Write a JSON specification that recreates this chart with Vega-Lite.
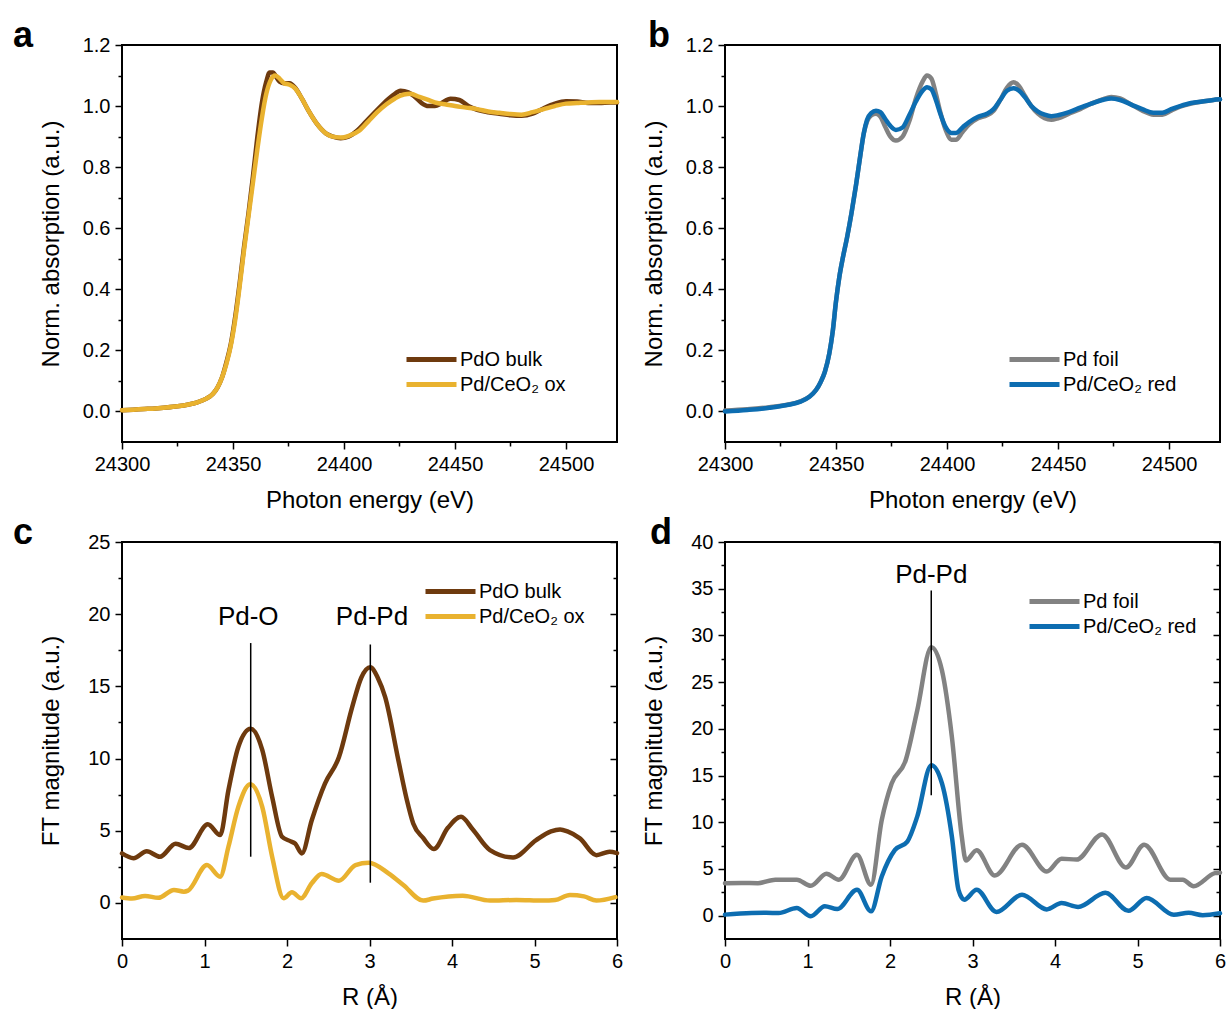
{
  "$schema": "https://vega.github.io/schema/vega-lite/v6.json",
  "padding": {"left": 12, "top": 17, "right": 0, "bottom": 0},
  "background": "white",
  "config": {
    "font": "Liberation Sans",
    "view": {"stroke": "black", "strokeWidth": 2},
    "axis": {
      "domain": false, "grid": false,
      "tickColor": "black", "tickWidth": 1.5,
      "labelFont": "Liberation Sans", "labelFontSize": 20, "labelColor": "black",
      "titleFont": "Liberation Sans", "titleFontSize": 24, "titleFontWeight": "normal", "titleColor": "black",
      "labelFlush": false, "labelOverlap": false
    },
    "axisLeft": {"minExtent": 42, "maxExtent": 42, "titlePadding": 17, "labelPadding": 5},
    "axisBottom": {"labelPadding": 5, "titlePadding": 14},
    "legend": {
      "orient": "none", "title": null, "padding": 0, "rowPadding": 2,
      "labelFont": "Liberation Sans", "labelFontSize": 20, "labelColor": "black",
      "symbolType": "M-2.5,0L2.5,0", "symbolSize": 400, "symbolStrokeWidth": 5, "labelOffset": 16
    },
    "title": {"font": "Liberation Sans", "fontSize": 36, "fontWeight": "bold", "color": "black", "anchor": "start", "frame": "group", "orient": "top", "offset": 0, "baseline": "alphabetic"}
  },
  "datasets": {
    "a": [
      {"E": 24300, "v": 0.004, "s": "PdO bulk"}, {"E": 24305, "v": 0.006, "s": "PdO bulk"}, {"E": 24310, "v": 0.008, "s": "PdO bulk"},
      {"E": 24315, "v": 0.010, "s": "PdO bulk"}, {"E": 24320, "v": 0.013, "s": "PdO bulk"}, {"E": 24325, "v": 0.017, "s": "PdO bulk"},
      {"E": 24330, "v": 0.023, "s": "PdO bulk"}, {"E": 24334, "v": 0.030, "s": "PdO bulk"}, {"E": 24338, "v": 0.042, "s": "PdO bulk"},
      {"E": 24341, "v": 0.058, "s": "PdO bulk"}, {"E": 24343, "v": 0.078, "s": "PdO bulk"}, {"E": 24345, "v": 0.11, "s": "PdO bulk"},
      {"E": 24347, "v": 0.16, "s": "PdO bulk"}, {"E": 24349, "v": 0.22, "s": "PdO bulk"}, {"E": 24351, "v": 0.31, "s": "PdO bulk"},
      {"E": 24353, "v": 0.42, "s": "PdO bulk"}, {"E": 24355, "v": 0.54, "s": "PdO bulk"}, {"E": 24357, "v": 0.65, "s": "PdO bulk"},
      {"E": 24359, "v": 0.77, "s": "PdO bulk"}, {"E": 24361, "v": 0.90, "s": "PdO bulk"}, {"E": 24363, "v": 1.01, "s": "PdO bulk"},
      {"E": 24365, "v": 1.08, "s": "PdO bulk"}, {"E": 24366.5, "v": 1.11, "s": "PdO bulk"}, {"E": 24368, "v": 1.11, "s": "PdO bulk"},
      {"E": 24369.5, "v": 1.095, "s": "PdO bulk"}, {"E": 24371, "v": 1.08, "s": "PdO bulk"}, {"E": 24373, "v": 1.075, "s": "PdO bulk"},
      {"E": 24375.5, "v": 1.075, "s": "PdO bulk"}, {"E": 24378, "v": 1.06, "s": "PdO bulk"}, {"E": 24381, "v": 1.025, "s": "PdO bulk"},
      {"E": 24384, "v": 0.985, "s": "PdO bulk"}, {"E": 24388, "v": 0.94, "s": "PdO bulk"}, {"E": 24392, "v": 0.91, "s": "PdO bulk"},
      {"E": 24395, "v": 0.9, "s": "PdO bulk"}, {"E": 24398.5, "v": 0.895, "s": "PdO bulk"}, {"E": 24402, "v": 0.9, "s": "PdO bulk"},
      {"E": 24406, "v": 0.92, "s": "PdO bulk"}, {"E": 24410, "v": 0.95, "s": "PdO bulk"}, {"E": 24414, "v": 0.98, "s": "PdO bulk"},
      {"E": 24418, "v": 1.01, "s": "PdO bulk"}, {"E": 24422, "v": 1.035, "s": "PdO bulk"}, {"E": 24425.5, "v": 1.05, "s": "PdO bulk"},
      {"E": 24429, "v": 1.045, "s": "PdO bulk"}, {"E": 24432, "v": 1.03, "s": "PdO bulk"}, {"E": 24435, "v": 1.01, "s": "PdO bulk"},
      {"E": 24438, "v": 1.0, "s": "PdO bulk"}, {"E": 24441, "v": 1.0, "s": "PdO bulk"}, {"E": 24444, "v": 1.01, "s": "PdO bulk"},
      {"E": 24448, "v": 1.024, "s": "PdO bulk"}, {"E": 24452, "v": 1.02, "s": "PdO bulk"}, {"E": 24456, "v": 1.0, "s": "PdO bulk"},
      {"E": 24460, "v": 0.988, "s": "PdO bulk"}, {"E": 24465, "v": 0.98, "s": "PdO bulk"}, {"E": 24470, "v": 0.975, "s": "PdO bulk"},
      {"E": 24475, "v": 0.97, "s": "PdO bulk"}, {"E": 24480, "v": 0.968, "s": "PdO bulk"}, {"E": 24485, "v": 0.975, "s": "PdO bulk"},
      {"E": 24490, "v": 0.993, "s": "PdO bulk"}, {"E": 24495, "v": 1.008, "s": "PdO bulk"}, {"E": 24500, "v": 1.016, "s": "PdO bulk"},
      {"E": 24505, "v": 1.015, "s": "PdO bulk"}, {"E": 24510, "v": 1.01, "s": "PdO bulk"}, {"E": 24515, "v": 1.01, "s": "PdO bulk"},
      {"E": 24520, "v": 1.012, "s": "PdO bulk"}, {"E": 24523, "v": 1.012, "s": "PdO bulk"},
      {"E": 24300, "v": 0.004, "s": "Pd/CeO₂ ox"}, {"E": 24305, "v": 0.006, "s": "Pd/CeO₂ ox"}, {"E": 24310, "v": 0.008, "s": "Pd/CeO₂ ox"},
      {"E": 24315, "v": 0.010, "s": "Pd/CeO₂ ox"}, {"E": 24320, "v": 0.013, "s": "Pd/CeO₂ ox"}, {"E": 24325, "v": 0.017, "s": "Pd/CeO₂ ox"},
      {"E": 24330, "v": 0.023, "s": "Pd/CeO₂ ox"}, {"E": 24334, "v": 0.030, "s": "Pd/CeO₂ ox"}, {"E": 24338, "v": 0.042, "s": "Pd/CeO₂ ox"},
      {"E": 24341, "v": 0.058, "s": "Pd/CeO₂ ox"}, {"E": 24343, "v": 0.078, "s": "Pd/CeO₂ ox"}, {"E": 24345, "v": 0.11, "s": "Pd/CeO₂ ox"},
      {"E": 24347, "v": 0.155, "s": "Pd/CeO₂ ox"}, {"E": 24349, "v": 0.215, "s": "Pd/CeO₂ ox"}, {"E": 24351, "v": 0.30, "s": "Pd/CeO₂ ox"},
      {"E": 24353, "v": 0.41, "s": "Pd/CeO₂ ox"}, {"E": 24355, "v": 0.53, "s": "Pd/CeO₂ ox"}, {"E": 24357, "v": 0.64, "s": "Pd/CeO₂ ox"},
      {"E": 24359, "v": 0.75, "s": "Pd/CeO₂ ox"}, {"E": 24361, "v": 0.86, "s": "Pd/CeO₂ ox"}, {"E": 24363, "v": 0.96, "s": "Pd/CeO₂ ox"},
      {"E": 24365, "v": 1.04, "s": "Pd/CeO₂ ox"}, {"E": 24367, "v": 1.085, "s": "Pd/CeO₂ ox"}, {"E": 24369, "v": 1.1, "s": "Pd/CeO₂ ox"},
      {"E": 24371, "v": 1.09, "s": "Pd/CeO₂ ox"}, {"E": 24373, "v": 1.075, "s": "Pd/CeO₂ ox"}, {"E": 24375.5, "v": 1.07, "s": "Pd/CeO₂ ox"},
      {"E": 24378, "v": 1.058, "s": "Pd/CeO₂ ox"}, {"E": 24381, "v": 1.025, "s": "Pd/CeO₂ ox"}, {"E": 24384, "v": 0.985, "s": "Pd/CeO₂ ox"},
      {"E": 24388, "v": 0.94, "s": "Pd/CeO₂ ox"}, {"E": 24392, "v": 0.91, "s": "Pd/CeO₂ ox"}, {"E": 24395, "v": 0.9, "s": "Pd/CeO₂ ox"},
      {"E": 24399, "v": 0.897, "s": "Pd/CeO₂ ox"}, {"E": 24403, "v": 0.905, "s": "Pd/CeO₂ ox"}, {"E": 24407, "v": 0.92, "s": "Pd/CeO₂ ox"},
      {"E": 24411, "v": 0.95, "s": "Pd/CeO₂ ox"}, {"E": 24415, "v": 0.98, "s": "Pd/CeO₂ ox"}, {"E": 24419, "v": 1.005, "s": "Pd/CeO₂ ox"},
      {"E": 24423, "v": 1.025, "s": "Pd/CeO₂ ox"}, {"E": 24427, "v": 1.038, "s": "Pd/CeO₂ ox"}, {"E": 24430, "v": 1.04, "s": "Pd/CeO₂ ox"},
      {"E": 24434, "v": 1.03, "s": "Pd/CeO₂ ox"}, {"E": 24438, "v": 1.02, "s": "Pd/CeO₂ ox"}, {"E": 24442, "v": 1.01, "s": "Pd/CeO₂ ox"},
      {"E": 24446, "v": 1.005, "s": "Pd/CeO₂ ox"}, {"E": 24450, "v": 1.0, "s": "Pd/CeO₂ ox"}, {"E": 24455, "v": 0.995, "s": "Pd/CeO₂ ox"},
      {"E": 24460, "v": 0.99, "s": "Pd/CeO₂ ox"}, {"E": 24465, "v": 0.982, "s": "Pd/CeO₂ ox"}, {"E": 24470, "v": 0.978, "s": "Pd/CeO₂ ox"},
      {"E": 24475, "v": 0.974, "s": "Pd/CeO₂ ox"}, {"E": 24480, "v": 0.972, "s": "Pd/CeO₂ ox"}, {"E": 24485, "v": 0.98, "s": "Pd/CeO₂ ox"},
      {"E": 24490, "v": 0.99, "s": "Pd/CeO₂ ox"}, {"E": 24495, "v": 1.0, "s": "Pd/CeO₂ ox"}, {"E": 24500, "v": 1.008, "s": "Pd/CeO₂ ox"},
      {"E": 24505, "v": 1.01, "s": "Pd/CeO₂ ox"}, {"E": 24510, "v": 1.012, "s": "Pd/CeO₂ ox"}, {"E": 24515, "v": 1.013, "s": "Pd/CeO₂ ox"},
      {"E": 24520, "v": 1.013, "s": "Pd/CeO₂ ox"}, {"E": 24523, "v": 1.013, "s": "Pd/CeO₂ ox"}
    ],
    "b": [
      {"E": 24300, "v": 0.003, "s": "Pd foil"}, {"E": 24310, "v": 0.007, "s": "Pd foil"}, {"E": 24320, "v": 0.014, "s": "Pd foil"},
      {"E": 24328, "v": 0.022, "s": "Pd foil"}, {"E": 24334, "v": 0.033, "s": "Pd foil"}, {"E": 24338, "v": 0.048, "s": "Pd foil"},
      {"E": 24341, "v": 0.07, "s": "Pd foil"}, {"E": 24343, "v": 0.095, "s": "Pd foil"}, {"E": 24345, "v": 0.13, "s": "Pd foil"},
      {"E": 24347, "v": 0.19, "s": "Pd foil"}, {"E": 24348.5, "v": 0.26, "s": "Pd foil"}, {"E": 24350, "v": 0.36, "s": "Pd foil"},
      {"E": 24351.5, "v": 0.44, "s": "Pd foil"}, {"E": 24353, "v": 0.5, "s": "Pd foil"}, {"E": 24355, "v": 0.57, "s": "Pd foil"},
      {"E": 24357, "v": 0.65, "s": "Pd foil"}, {"E": 24359, "v": 0.74, "s": "Pd foil"}, {"E": 24361, "v": 0.84, "s": "Pd foil"},
      {"E": 24362.5, "v": 0.91, "s": "Pd foil"}, {"E": 24364, "v": 0.95, "s": "Pd foil"}, {"E": 24366, "v": 0.97, "s": "Pd foil"},
      {"E": 24368, "v": 0.975, "s": "Pd foil"}, {"E": 24370, "v": 0.965, "s": "Pd foil"}, {"E": 24372, "v": 0.935, "s": "Pd foil"},
      {"E": 24374.5, "v": 0.9, "s": "Pd foil"}, {"E": 24377, "v": 0.887, "s": "Pd foil"}, {"E": 24380, "v": 0.9, "s": "Pd foil"},
      {"E": 24383, "v": 0.95, "s": "Pd foil"}, {"E": 24386, "v": 1.025, "s": "Pd foil"}, {"E": 24389, "v": 1.08, "s": "Pd foil"},
      {"E": 24391, "v": 1.1, "s": "Pd foil"}, {"E": 24393, "v": 1.09, "s": "Pd foil"}, {"E": 24395, "v": 1.04, "s": "Pd foil"},
      {"E": 24397, "v": 0.98, "s": "Pd foil"}, {"E": 24399.5, "v": 0.92, "s": "Pd foil"}, {"E": 24402, "v": 0.89, "s": "Pd foil"},
      {"E": 24404, "v": 0.89, "s": "Pd foil"}, {"E": 24407, "v": 0.915, "s": "Pd foil"}, {"E": 24410, "v": 0.94, "s": "Pd foil"},
      {"E": 24414, "v": 0.96, "s": "Pd foil"}, {"E": 24418, "v": 0.97, "s": "Pd foil"}, {"E": 24421, "v": 0.985, "s": "Pd foil"},
      {"E": 24424, "v": 1.02, "s": "Pd foil"}, {"E": 24427, "v": 1.06, "s": "Pd foil"}, {"E": 24430, "v": 1.078, "s": "Pd foil"},
      {"E": 24432.5, "v": 1.065, "s": "Pd foil"}, {"E": 24435, "v": 1.035, "s": "Pd foil"}, {"E": 24438, "v": 1.0, "s": "Pd foil"},
      {"E": 24441, "v": 0.975, "s": "Pd foil"}, {"E": 24444, "v": 0.96, "s": "Pd foil"}, {"E": 24447, "v": 0.955, "s": "Pd foil"},
      {"E": 24450, "v": 0.96, "s": "Pd foil"}, {"E": 24455, "v": 0.975, "s": "Pd foil"}, {"E": 24460, "v": 0.99, "s": "Pd foil"},
      {"E": 24465, "v": 1.008, "s": "Pd foil"}, {"E": 24470, "v": 1.022, "s": "Pd foil"}, {"E": 24474, "v": 1.03, "s": "Pd foil"},
      {"E": 24478, "v": 1.025, "s": "Pd foil"}, {"E": 24483, "v": 1.005, "s": "Pd foil"}, {"E": 24488, "v": 0.985, "s": "Pd foil"},
      {"E": 24493, "v": 0.972, "s": "Pd foil"}, {"E": 24497, "v": 0.972, "s": "Pd foil"}, {"E": 24501, "v": 0.985, "s": "Pd foil"},
      {"E": 24505, "v": 0.998, "s": "Pd foil"}, {"E": 24510, "v": 1.008, "s": "Pd foil"}, {"E": 24515, "v": 1.015, "s": "Pd foil"},
      {"E": 24520, "v": 1.02, "s": "Pd foil"}, {"E": 24523, "v": 1.022, "s": "Pd foil"},
      {"E": 24300, "v": 0.0, "s": "Pd/CeO₂ red"}, {"E": 24310, "v": 0.005, "s": "Pd/CeO₂ red"}, {"E": 24320, "v": 0.012, "s": "Pd/CeO₂ red"},
      {"E": 24328, "v": 0.021, "s": "Pd/CeO₂ red"}, {"E": 24334, "v": 0.032, "s": "Pd/CeO₂ red"}, {"E": 24338, "v": 0.048, "s": "Pd/CeO₂ red"},
      {"E": 24341, "v": 0.07, "s": "Pd/CeO₂ red"}, {"E": 24343, "v": 0.095, "s": "Pd/CeO₂ red"}, {"E": 24345, "v": 0.13, "s": "Pd/CeO₂ red"},
      {"E": 24347, "v": 0.19, "s": "Pd/CeO₂ red"}, {"E": 24348.5, "v": 0.26, "s": "Pd/CeO₂ red"}, {"E": 24350, "v": 0.36, "s": "Pd/CeO₂ red"},
      {"E": 24351.5, "v": 0.44, "s": "Pd/CeO₂ red"}, {"E": 24353, "v": 0.5, "s": "Pd/CeO₂ red"}, {"E": 24355, "v": 0.57, "s": "Pd/CeO₂ red"},
      {"E": 24357, "v": 0.65, "s": "Pd/CeO₂ red"}, {"E": 24359, "v": 0.74, "s": "Pd/CeO₂ red"}, {"E": 24361, "v": 0.84, "s": "Pd/CeO₂ red"},
      {"E": 24362.5, "v": 0.91, "s": "Pd/CeO₂ red"}, {"E": 24364, "v": 0.955, "s": "Pd/CeO₂ red"}, {"E": 24366, "v": 0.978, "s": "Pd/CeO₂ red"},
      {"E": 24368, "v": 0.985, "s": "Pd/CeO₂ red"}, {"E": 24370, "v": 0.98, "s": "Pd/CeO₂ red"}, {"E": 24372, "v": 0.96, "s": "Pd/CeO₂ red"},
      {"E": 24374.5, "v": 0.935, "s": "Pd/CeO₂ red"}, {"E": 24377, "v": 0.922, "s": "Pd/CeO₂ red"}, {"E": 24380, "v": 0.93, "s": "Pd/CeO₂ red"},
      {"E": 24383, "v": 0.97, "s": "Pd/CeO₂ red"}, {"E": 24386, "v": 1.015, "s": "Pd/CeO₂ red"}, {"E": 24389, "v": 1.05, "s": "Pd/CeO₂ red"},
      {"E": 24391, "v": 1.062, "s": "Pd/CeO₂ red"}, {"E": 24393, "v": 1.055, "s": "Pd/CeO₂ red"}, {"E": 24395, "v": 1.02, "s": "Pd/CeO₂ red"},
      {"E": 24397, "v": 0.975, "s": "Pd/CeO₂ red"}, {"E": 24399.5, "v": 0.93, "s": "Pd/CeO₂ red"}, {"E": 24402, "v": 0.912, "s": "Pd/CeO₂ red"},
      {"E": 24404, "v": 0.912, "s": "Pd/CeO₂ red"}, {"E": 24407, "v": 0.93, "s": "Pd/CeO₂ red"}, {"E": 24410, "v": 0.948, "s": "Pd/CeO₂ red"},
      {"E": 24414, "v": 0.965, "s": "Pd/CeO₂ red"}, {"E": 24418, "v": 0.975, "s": "Pd/CeO₂ red"}, {"E": 24421, "v": 0.99, "s": "Pd/CeO₂ red"},
      {"E": 24424, "v": 1.02, "s": "Pd/CeO₂ red"}, {"E": 24427, "v": 1.05, "s": "Pd/CeO₂ red"}, {"E": 24430, "v": 1.058, "s": "Pd/CeO₂ red"},
      {"E": 24432.5, "v": 1.05, "s": "Pd/CeO₂ red"}, {"E": 24435, "v": 1.03, "s": "Pd/CeO₂ red"}, {"E": 24438, "v": 1.0, "s": "Pd/CeO₂ red"},
      {"E": 24441, "v": 0.982, "s": "Pd/CeO₂ red"}, {"E": 24444, "v": 0.972, "s": "Pd/CeO₂ red"}, {"E": 24447, "v": 0.967, "s": "Pd/CeO₂ red"},
      {"E": 24450, "v": 0.97, "s": "Pd/CeO₂ red"}, {"E": 24455, "v": 0.98, "s": "Pd/CeO₂ red"}, {"E": 24460, "v": 0.995, "s": "Pd/CeO₂ red"},
      {"E": 24465, "v": 1.008, "s": "Pd/CeO₂ red"}, {"E": 24470, "v": 1.02, "s": "Pd/CeO₂ red"}, {"E": 24474, "v": 1.025, "s": "Pd/CeO₂ red"},
      {"E": 24478, "v": 1.02, "s": "Pd/CeO₂ red"}, {"E": 24483, "v": 1.005, "s": "Pd/CeO₂ red"}, {"E": 24488, "v": 0.99, "s": "Pd/CeO₂ red"},
      {"E": 24493, "v": 0.978, "s": "Pd/CeO₂ red"}, {"E": 24497, "v": 0.978, "s": "Pd/CeO₂ red"}, {"E": 24501, "v": 0.99, "s": "Pd/CeO₂ red"},
      {"E": 24505, "v": 1.0, "s": "Pd/CeO₂ red"}, {"E": 24510, "v": 1.01, "s": "Pd/CeO₂ red"}, {"E": 24515, "v": 1.015, "s": "Pd/CeO₂ red"},
      {"E": 24520, "v": 1.02, "s": "Pd/CeO₂ red"}, {"E": 24523, "v": 1.022, "s": "Pd/CeO₂ red"}
    ],
    "c": [
      {"R": 0, "m": 3.43, "s": "PdO bulk"}, {"R": 0.14, "m": 3.1, "s": "PdO bulk"}, {"R": 0.30, "m": 3.58, "s": "PdO bulk"},
      {"R": 0.46, "m": 3.2, "s": "PdO bulk"}, {"R": 0.65, "m": 4.1, "s": "PdO bulk"}, {"R": 0.81, "m": 3.8, "s": "PdO bulk"},
      {"R": 1.04, "m": 5.45, "s": "PdO bulk"}, {"R": 1.19, "m": 4.7, "s": "PdO bulk"}, {"R": 1.29, "m": 7.8, "s": "PdO bulk"},
      {"R": 1.41, "m": 10.8, "s": "PdO bulk"}, {"R": 1.56, "m": 12.06, "s": "PdO bulk"}, {"R": 1.70, "m": 10.6, "s": "PdO bulk"},
      {"R": 1.82, "m": 7.34, "s": "PdO bulk"}, {"R": 1.94, "m": 4.58, "s": "PdO bulk"}, {"R": 2.04, "m": 4.28, "s": "PdO bulk"},
      {"R": 2.10, "m": 4.1, "s": "PdO bulk"}, {"R": 2.18, "m": 3.43, "s": "PdO bulk"}, {"R": 2.30, "m": 5.73, "s": "PdO bulk"},
      {"R": 2.46, "m": 8.27, "s": "PdO bulk"}, {"R": 2.63, "m": 10.1, "s": "PdO bulk"}, {"R": 2.79, "m": 13.56, "s": "PdO bulk"},
      {"R": 2.90, "m": 15.6, "s": "PdO bulk"}, {"R": 3.01, "m": 16.32, "s": "PdO bulk"}, {"R": 3.10, "m": 15.6, "s": "PdO bulk"},
      {"R": 3.19, "m": 14.25, "s": "PdO bulk"}, {"R": 3.35, "m": 9.88, "s": "PdO bulk"}, {"R": 3.45, "m": 7.2, "s": "PdO bulk"},
      {"R": 3.53, "m": 5.5, "s": "PdO bulk"}, {"R": 3.65, "m": 4.5, "s": "PdO bulk"}, {"R": 3.78, "m": 3.73, "s": "PdO bulk"},
      {"R": 3.95, "m": 5.2, "s": "PdO bulk"}, {"R": 4.11, "m": 5.96, "s": "PdO bulk"}, {"R": 4.25, "m": 5.1, "s": "PdO bulk"},
      {"R": 4.46, "m": 3.66, "s": "PdO bulk"}, {"R": 4.74, "m": 3.15, "s": "PdO bulk"}, {"R": 5.02, "m": 4.35, "s": "PdO bulk"},
      {"R": 5.20, "m": 4.95, "s": "PdO bulk"}, {"R": 5.31, "m": 5.09, "s": "PdO bulk"}, {"R": 5.40, "m": 4.95, "s": "PdO bulk"},
      {"R": 5.55, "m": 4.47, "s": "PdO bulk"}, {"R": 5.75, "m": 3.31, "s": "PdO bulk"}, {"R": 5.91, "m": 3.54, "s": "PdO bulk"},
      {"R": 6.0, "m": 3.45, "s": "PdO bulk"},
      {"R": 0, "m": 0.37, "s": "Pd/CeO₂ ox"}, {"R": 0.12, "m": 0.3, "s": "Pd/CeO₂ ox"}, {"R": 0.28, "m": 0.48, "s": "Pd/CeO₂ ox"},
      {"R": 0.44, "m": 0.35, "s": "Pd/CeO₂ ox"}, {"R": 0.63, "m": 0.9, "s": "Pd/CeO₂ ox"}, {"R": 0.75, "m": 0.78, "s": "Pd/CeO₂ ox"},
      {"R": 0.80, "m": 0.85, "s": "Pd/CeO₂ ox"}, {"R": 1.03, "m": 2.62, "s": "Pd/CeO₂ ox"}, {"R": 1.19, "m": 1.82, "s": "Pd/CeO₂ ox"},
      {"R": 1.29, "m": 3.89, "s": "Pd/CeO₂ ox"}, {"R": 1.41, "m": 6.65, "s": "Pd/CeO₂ ox"}, {"R": 1.555, "m": 8.22, "s": "Pd/CeO₂ ox"},
      {"R": 1.70, "m": 6.65, "s": "Pd/CeO₂ ox"}, {"R": 1.82, "m": 3.2, "s": "Pd/CeO₂ ox"}, {"R": 1.96, "m": 0.32, "s": "Pd/CeO₂ ox"},
      {"R": 2.06, "m": 0.74, "s": "Pd/CeO₂ ox"}, {"R": 2.17, "m": 0.32, "s": "Pd/CeO₂ ox"}, {"R": 2.30, "m": 1.36, "s": "Pd/CeO₂ ox"},
      {"R": 2.42, "m": 2.0, "s": "Pd/CeO₂ ox"}, {"R": 2.63, "m": 1.54, "s": "Pd/CeO₂ ox"}, {"R": 2.83, "m": 2.62, "s": "Pd/CeO₂ ox"},
      {"R": 2.99, "m": 2.78, "s": "Pd/CeO₂ ox"}, {"R": 3.23, "m": 2.05, "s": "Pd/CeO₂ ox"}, {"R": 3.41, "m": 1.24, "s": "Pd/CeO₂ ox"},
      {"R": 3.65, "m": 0.16, "s": "Pd/CeO₂ ox"}, {"R": 3.77, "m": 0.3, "s": "Pd/CeO₂ ox"}, {"R": 4.13, "m": 0.5, "s": "Pd/CeO₂ ox"},
      {"R": 4.46, "m": 0.16, "s": "Pd/CeO₂ ox"}, {"R": 4.78, "m": 0.2, "s": "Pd/CeO₂ ox"}, {"R": 5.1, "m": 0.16, "s": "Pd/CeO₂ ox"},
      {"R": 5.25, "m": 0.2, "s": "Pd/CeO₂ ox"}, {"R": 5.43, "m": 0.55, "s": "Pd/CeO₂ ox"}, {"R": 5.6, "m": 0.45, "s": "Pd/CeO₂ ox"},
      {"R": 5.75, "m": 0.16, "s": "Pd/CeO₂ ox"}, {"R": 5.98, "m": 0.4, "s": "Pd/CeO₂ ox"}
    ],
    "d": [
      {"R": 0, "m": 3.48, "s": "Pd foil"}, {"R": 0.20, "m": 3.5, "s": "Pd foil"}, {"R": 0.40, "m": 3.48, "s": "Pd foil"},
      {"R": 0.61, "m": 3.84, "s": "Pd foil"}, {"R": 0.87, "m": 3.84, "s": "Pd foil"}, {"R": 1.04, "m": 3.2, "s": "Pd foil"},
      {"R": 1.23, "m": 4.48, "s": "Pd foil"}, {"R": 1.38, "m": 3.84, "s": "Pd foil"}, {"R": 1.60, "m": 6.51, "s": "Pd foil"},
      {"R": 1.77, "m": 3.31, "s": "Pd foil"}, {"R": 1.90, "m": 10.24, "s": "Pd foil"}, {"R": 2.02, "m": 14.15, "s": "Pd foil"},
      {"R": 2.19, "m": 16.64, "s": "Pd foil"}, {"R": 2.33, "m": 21.97, "s": "Pd foil"}, {"R": 2.50, "m": 28.73, "s": "Pd foil"},
      {"R": 2.63, "m": 26.24, "s": "Pd foil"}, {"R": 2.75, "m": 19.13, "s": "Pd foil"}, {"R": 2.87, "m": 8.46, "s": "Pd foil"},
      {"R": 2.92, "m": 5.9, "s": "Pd foil"}, {"R": 3.05, "m": 7.0, "s": "Pd foil"}, {"R": 3.27, "m": 4.3, "s": "Pd foil"},
      {"R": 3.60, "m": 7.6, "s": "Pd foil"}, {"R": 3.90, "m": 4.73, "s": "Pd foil"}, {"R": 4.08, "m": 6.1, "s": "Pd foil"},
      {"R": 4.26, "m": 6.0, "s": "Pd foil"}, {"R": 4.57, "m": 8.7, "s": "Pd foil"}, {"R": 4.86, "m": 5.15, "s": "Pd foil"},
      {"R": 5.08, "m": 7.6, "s": "Pd foil"}, {"R": 5.40, "m": 3.85, "s": "Pd foil"}, {"R": 5.55, "m": 3.84, "s": "Pd foil"},
      {"R": 5.68, "m": 3.15, "s": "Pd foil"}, {"R": 5.94, "m": 4.55, "s": "Pd foil"}, {"R": 6.0, "m": 4.6, "s": "Pd foil"},
      {"R": 0, "m": 0.11, "s": "Pd/CeO₂ red"}, {"R": 0.32, "m": 0.28, "s": "Pd/CeO₂ red"}, {"R": 0.50, "m": 0.3, "s": "Pd/CeO₂ red"},
      {"R": 0.65, "m": 0.28, "s": "Pd/CeO₂ red"}, {"R": 0.87, "m": 0.82, "s": "Pd/CeO₂ red"}, {"R": 1.04, "m": -0.07, "s": "Pd/CeO₂ red"},
      {"R": 1.21, "m": 1.0, "s": "Pd/CeO₂ red"}, {"R": 1.36, "m": 0.7, "s": "Pd/CeO₂ red"}, {"R": 1.60, "m": 2.77, "s": "Pd/CeO₂ red"},
      {"R": 1.77, "m": 0.46, "s": "Pd/CeO₂ red"}, {"R": 1.90, "m": 4.2, "s": "Pd/CeO₂ red"}, {"R": 2.06, "m": 7.04, "s": "Pd/CeO₂ red"},
      {"R": 2.21, "m": 7.93, "s": "Pd/CeO₂ red"}, {"R": 2.33, "m": 10.6, "s": "Pd/CeO₂ red"}, {"R": 2.50, "m": 16.1, "s": "Pd/CeO₂ red"},
      {"R": 2.63, "m": 14.15, "s": "Pd/CeO₂ red"}, {"R": 2.75, "m": 8.46, "s": "Pd/CeO₂ red"}, {"R": 2.83, "m": 2.77, "s": "Pd/CeO₂ red"},
      {"R": 2.90, "m": 1.71, "s": "Pd/CeO₂ red"}, {"R": 3.05, "m": 2.77, "s": "Pd/CeO₂ red"}, {"R": 3.29, "m": 0.4, "s": "Pd/CeO₂ red"},
      {"R": 3.60, "m": 2.24, "s": "Pd/CeO₂ red"}, {"R": 3.90, "m": 0.67, "s": "Pd/CeO₂ red"}, {"R": 4.08, "m": 1.35, "s": "Pd/CeO₂ red"},
      {"R": 4.28, "m": 0.93, "s": "Pd/CeO₂ red"}, {"R": 4.61, "m": 2.45, "s": "Pd/CeO₂ red"}, {"R": 4.89, "m": 0.52, "s": "Pd/CeO₂ red"},
      {"R": 5.11, "m": 1.9, "s": "Pd/CeO₂ red"}, {"R": 5.44, "m": 0.1, "s": "Pd/CeO₂ red"}, {"R": 5.62, "m": 0.3, "s": "Pd/CeO₂ red"},
      {"R": 5.79, "m": 0.05, "s": "Pd/CeO₂ red"}, {"R": 6.0, "m": 0.25, "s": "Pd/CeO₂ red"}
    ],
    "cref": [{"R": 1.56, "lo": 3.2, "hi": 18.0}, {"R": 3.01, "lo": 1.4, "hi": 17.9}],
    "clab": [{"R": 1.53, "m": 19.8, "t": "Pd-O"}, {"R": 3.03, "m": 19.8, "t": "Pd-Pd"}],
    "dref": [{"R": 2.5, "lo": 12.9, "hi": 34.8}],
    "dlab": [{"R": 2.5, "m": 36.5, "t": "Pd-Pd"}]
  },
  "resolve": {"scale": {"color": "independent"}, "legend": {"color": "independent"}},
  "columns": 2,
  "bounds": "flush",
  "spacing": {"row": 100, "column": 108},
  "concat": [
    {
      "width": 495, "height": 397,
      "title": {"text": "a", "dx": -109, "dy": 24},
      "data": {"name": "a"},
      "mark": {"type": "line", "strokeWidth": 4.5, "interpolate": "monotone", "strokeCap": "round"},
      "encoding": {
        "x": {"field": "E", "type": "quantitative", "scale": {"domain": [24300, 24523], "nice": false, "zero": false},
          "axis": {"title": "Photon energy (eV)", "format": "d",
            "values": [24300, 24325, 24350, 24375, 24400, 24425, 24450, 24475, 24500],
            "labelExpr": "datum.value % 50 === 0 ? datum.label : ''",
            "tickSize": {"condition": {"test": "datum.value % 50 === 0", "value": 7}, "value": 4}}},
        "y": {"field": "v", "type": "quantitative", "scale": {"domain": [-0.1, 1.2], "nice": false, "zero": false},
          "axis": {"title": "Norm. absorption (a.u.)", "format": ".1f",
            "values": [0, 0.1, 0.2, 0.3, 0.4, 0.5, 0.6, 0.7, 0.8, 0.9, 1.0, 1.1, 1.2],
            "labelExpr": "round(datum.value * 10) % 2 === 0 ? datum.label : ''",
            "tickSize": {"condition": {"test": "round(datum.value * 10) % 2 === 0", "value": 7}, "value": 4}}},
        "color": {"field": "s", "type": "nominal",
          "scale": {"domain": ["PdO bulk", "Pd/CeO₂ ox"], "range": ["#6E3A0E", "#E9B22F"]},
          "legend": {"legendX": 297, "legendY": 302}}
      }
    },
    {
      "width": 495, "height": 397,
      "title": {"text": "b", "dx": -77, "dy": 24},
      "data": {"name": "b"},
      "mark": {"type": "line", "strokeWidth": 4.5, "interpolate": "monotone", "strokeCap": "round"},
      "encoding": {
        "x": {"field": "E", "type": "quantitative", "scale": {"domain": [24300, 24523], "nice": false, "zero": false},
          "axis": {"title": "Photon energy (eV)", "format": "d",
            "values": [24300, 24325, 24350, 24375, 24400, 24425, 24450, 24475, 24500],
            "labelExpr": "datum.value % 50 === 0 ? datum.label : ''",
            "tickSize": {"condition": {"test": "datum.value % 50 === 0", "value": 7}, "value": 4}}},
        "y": {"field": "v", "type": "quantitative", "scale": {"domain": [-0.1, 1.2], "nice": false, "zero": false},
          "axis": {"title": "Norm. absorption (a.u.)", "format": ".1f",
            "values": [0, 0.1, 0.2, 0.3, 0.4, 0.5, 0.6, 0.7, 0.8, 0.9, 1.0, 1.1, 1.2],
            "labelExpr": "round(datum.value * 10) % 2 === 0 ? datum.label : ''",
            "tickSize": {"condition": {"test": "round(datum.value * 10) % 2 === 0", "value": 7}, "value": 4}}},
        "color": {"field": "s", "type": "nominal",
          "scale": {"domain": ["Pd foil", "Pd/CeO₂ red"], "range": ["#828282", "#0D6DB1"]},
          "legend": {"legendX": 297, "legendY": 302}}
      }
    },
    {
      "width": 495, "height": 397,
      "title": {"text": "c", "dx": -109, "dy": 24},
      "resolve": {"axis": {"y": "independent"}},
      "encoding": {
        "x": {"field": "R", "type": "quantitative", "scale": {"domain": [0, 6], "nice": false},
          "axis": {"title": "R (Å)", "format": "d",
            "values": [0, 0.5, 1, 1.5, 2, 2.5, 3, 3.5, 4, 4.5, 5, 5.5, 6],
            "labelExpr": "datum.value % 1 === 0 ? datum.label : ''",
            "tickSize": {"condition": {"test": "datum.value % 1 === 0", "value": 7}, "value": 4}}}
      },
      "layer": [
        {
          "data": {"name": "c"},
          "mark": {"type": "line", "strokeWidth": 4.5, "interpolate": "monotone", "strokeCap": "round"},
          "encoding": {
            "y": {"field": "m", "type": "quantitative", "scale": {"domain": [-2.5, 25], "nice": false, "zero": false},
              "axis": {"title": "FT magnitude (a.u.)", "orient": "left",
                "values": [0, 2.5, 5, 7.5, 10, 12.5, 15, 17.5, 20, 22.5, 25],
                "labelExpr": "datum.value % 5 === 0 ? datum.label : ''",
                "tickSize": {"condition": {"test": "datum.value % 5 === 0", "value": 7}, "value": 4}}},
            "color": {"field": "s", "type": "nominal",
              "scale": {"domain": ["PdO bulk", "Pd/CeO₂ ox"], "range": ["#6E3A0E", "#E9B22F"]},
              "legend": {"legendX": 316, "legendY": 37}}
          }
        },
        {
          "data": {"name": "cref"},
          "mark": {"type": "rule", "color": "black", "strokeWidth": 1.5},
          "encoding": {
            "y": {"field": "lo", "type": "quantitative",
              "axis": {"orient": "right", "title": null, "labels": false,
                "values": [0, 2.5, 5, 7.5, 10, 12.5, 15, 17.5, 20, 22.5, 25],
                "tickSize": {"condition": {"test": "datum.value % 5 === 0", "value": -7}, "value": -4}}},
            "y2": {"field": "hi"}
          }
        },
        {
          "data": {"name": "clab"},
          "mark": {"type": "text", "fontSize": 26, "font": "Liberation Sans", "color": "black", "baseline": "middle", "align": "center"},
          "encoding": {
            "y": {"field": "m", "type": "quantitative", "axis": null},
            "text": {"field": "t"}
          }
        }
      ]
    },
    {
      "width": 495, "height": 397,
      "title": {"text": "d", "dx": -75, "dy": 24},
      "resolve": {"axis": {"y": "independent"}},
      "encoding": {
        "x": {"field": "R", "type": "quantitative", "scale": {"domain": [0, 6], "nice": false},
          "axis": {"title": "R (Å)", "format": "d",
            "values": [0, 0.5, 1, 1.5, 2, 2.5, 3, 3.5, 4, 4.5, 5, 5.5, 6],
            "labelExpr": "datum.value % 1 === 0 ? datum.label : ''",
            "tickSize": {"condition": {"test": "datum.value % 1 === 0", "value": 7}, "value": 4}}}
      },
      "layer": [
        {
          "data": {"name": "d"},
          "mark": {"type": "line", "strokeWidth": 4.5, "interpolate": "monotone", "strokeCap": "round"},
          "encoding": {
            "y": {"field": "m", "type": "quantitative", "scale": {"domain": [-2.5, 40], "nice": false, "zero": false},
              "axis": {"title": "FT magnitude (a.u.)", "orient": "left",
                "values": [0, 2.5, 5, 7.5, 10, 12.5, 15, 17.5, 20, 22.5, 25, 27.5, 30, 32.5, 35, 37.5, 40],
                "labelExpr": "datum.value % 5 === 0 ? datum.label : ''",
                "tickSize": {"condition": {"test": "datum.value % 5 === 0", "value": 7}, "value": 4}}},
            "color": {"field": "s", "type": "nominal",
              "scale": {"domain": ["Pd foil", "Pd/CeO₂ red"], "range": ["#828282", "#0D6DB1"]},
              "legend": {"legendX": 317, "legendY": 47}}
          }
        },
        {
          "data": {"name": "dref"},
          "mark": {"type": "rule", "color": "black", "strokeWidth": 1.5},
          "encoding": {
            "y": {"field": "lo", "type": "quantitative",
              "axis": {"orient": "right", "title": null, "labels": false,
                "values": [0, 2.5, 5, 7.5, 10, 12.5, 15, 17.5, 20, 22.5, 25, 27.5, 30, 32.5, 35, 37.5, 40],
                "tickSize": {"condition": {"test": "datum.value % 5 === 0", "value": -7}, "value": -4}}},
            "y2": {"field": "hi"}
          }
        },
        {
          "data": {"name": "dlab"},
          "mark": {"type": "text", "fontSize": 26, "font": "Liberation Sans", "color": "black", "baseline": "middle", "align": "center"},
          "encoding": {
            "y": {"field": "m", "type": "quantitative", "axis": null},
            "text": {"field": "t"}
          }
        }
      ]
    }
  ]
}
